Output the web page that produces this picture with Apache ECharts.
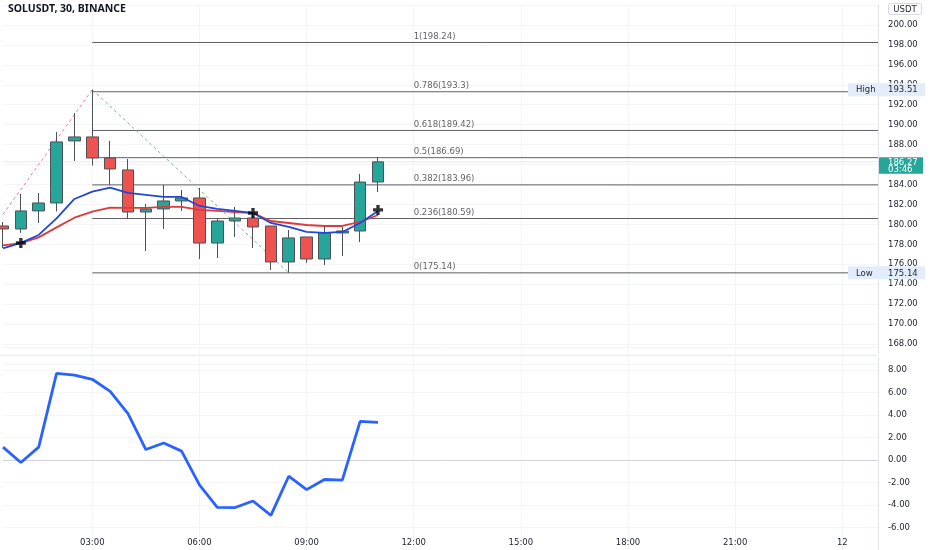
<!DOCTYPE html>
<html><head><meta charset="utf-8">
<script src="https://cdn.jsdelivr.net/npm/echarts@6/dist/echarts.min.js"></script>
<style>html,body{margin:0;padding:0;background:#fff}#c{width:932px;height:550px}</style>
</head><body><div id="c"></div>
<script>
const axisSlots = ['00:30','01:00','01:30','02:00','02:30','03:00','03:30','04:00','04:30','05:00','05:30','06:00','06:30','07:00','07:30','08:00','08:30','09:00','09:30','10:00','10:30','11:00','11:30','12:00','12:30','13:00','13:30','14:00','14:30','15:00','15:30','16:00','16:30','17:00','17:30','18:00','18:30','19:00','19:30','20:00','20:30','21:00','21:30','22:00','22:30','23:00','23:30','12','12 00:30','12 01:00'];
const tickLabels = ['03:00','06:00','09:00','12:00','15:00','18:00','21:00','12'];
const candleTimes = ['00:30','01:00','01:30','02:00','02:30','03:00','03:30','04:00','04:30','05:00','05:30','06:00','06:30','07:00','07:30','08:00','08:30','09:00','09:30','10:00','10:30','11:00'];
const opens  = [179.84,179.54,181.35,182.15,188.37,188.77,186.66,185.46,181.24,181.55,182.35,182.65,178.13,180.34,180.64,179.84,176.23,178.74,176.53,179.14,179.34,184.25];
const closes = [179.54,181.35,182.15,188.27,188.77,186.66,185.56,181.24,181.55,182.35,182.65,178.13,180.34,180.64,179.74,176.23,178.64,176.53,179.14,179.34,184.25,186.27];
const lows   = [177.63,179.14,180.14,181.30,186.36,185.90,183.95,180.54,177.33,179.54,181.35,176.53,176.63,178.74,177.63,175.43,175.14,176.13,175.93,176.83,178.23,183.25];
const highs  = [180.24,183.05,183.15,189.27,191.17,193.51,188.37,186.56,182.05,183.95,183.45,183.65,180.54,181.75,181.14,179.84,179.44,178.74,179.94,179.74,185.06,186.76];
const emaFast = [177.60,178.15,178.94,180.60,182.55,183.28,183.68,183.15,182.95,182.75,182.75,181.85,181.55,181.35,181.14,180.14,179.74,179.24,179.14,179.24,180.14,181.35];
const emaSlow = [177.90,178.13,178.70,179.70,180.67,181.27,181.67,181.65,181.65,181.75,181.75,181.45,181.35,181.24,181.14,180.34,180.14,179.94,179.84,179.84,180.24,180.94];
const oscillator = [1.13,-0.23,1.13,7.68,7.53,7.16,6.09,4.11,0.92,1.50,0.78,-2.21,-4.21,-4.23,-3.65,-4.93,-1.45,-2.64,-1.74,-1.80,3.42,3.33];
const crossTimes = ['01:00','07:30','11:00'];
const crossValues = [178.13,181.14,181.45];
const fibRatios = ['1','0.786','0.618','0.5','0.382','0.236','0'];
const fibLevels = [198.24,193.3,189.42,186.69,183.96,180.59,175.14];
const fibStart = '03:00', fibEnd = '12 01:00', fibLabelAt = '12:00';
const upLegTimes = ['00:30','03:00'], upLegValues = [181.0,193.51];
const downLegTimes = ['03:00','08:30'], downLegValues = [193.51,175.14];
const lastPrice = 186.27, countdown = '03:46';
const highValue = 193.51, lowValue = 175.14;
const titleText = 'SOLUSDT, 30, BINANCE';
const currency = 'USDT';

const FONT = 'DejaVu Sans';
const chart = echarts.init(document.getElementById('c'), null, {renderer:'canvas'});
const labelInterval = (i, v) => tickLabels.includes(v);

const series = [];
fibLevels.forEach((lv) => {
  series.push({type:'line', xAxisIndex:0, yAxisIndex:0, data:[[fibStart, lv],[fibEnd, lv]], symbol:'none', silent:true,
    lineStyle:{color:'#5f6066', width:1}, clip:false, z:2});
});
series.push({type:'scatter', xAxisIndex:0, yAxisIndex:0, symbolSize:0, silent:true,
  data: fibLevels.map((lv,i)=>({value:[fibLabelAt, lv], label:{formatter: fibRatios[i]+'('+lv+')'}})),
  label:{show:true, position:'right', distance:0, offset:[0,-6], color:'#3a3a3a', fontFamily:FONT, fontSize:8.5}, z:3});
series.push({type:'line', xAxisIndex:0, yAxisIndex:0, data:[[axisSlots[0], lastPrice],[fibEnd, lastPrice]], symbol:'none', silent:true,
  lineStyle:{color:'#e9eaee', width:1}, clip:false, z:1});
series.push({type:'line', xAxisIndex:0, yAxisIndex:0, data: upLegTimes.map((t,i)=>[t, upLegValues[i]]), symbol:'none', silent:true,
  lineStyle:{color:'#ee7a86', width:1, type:[3,3]}, clip:false, z:2});
series.push({type:'line', xAxisIndex:0, yAxisIndex:0, data: downLegTimes.map((t,i)=>[t, downLegValues[i]]), symbol:'none', silent:true,
  lineStyle:{color:'#7fb486', width:1, type:[3,3]}, clip:false, z:2});
series.push({type:'candlestick', xAxisIndex:0, yAxisIndex:0, barWidth:12, clip:false,
  data: candleTimes.map((t,i)=>[opens[i], closes[i], lows[i], highs[i]]),
  itemStyle:{color:'#26a69a', color0:'#ef5350', borderColor:'#4e5257', borderColor0:'#4e5257', borderWidth:1}, z:4});
series.push({type:'line', xAxisIndex:0, yAxisIndex:0, data: candleTimes.map((t,i)=>[t, emaSlow[i]]), symbol:'none', clip:false,
  lineStyle:{color:'#dd3b3b', width:1.8}, z:5});
series.push({type:'line', xAxisIndex:0, yAxisIndex:0, data: candleTimes.map((t,i)=>[t, emaFast[i]]), symbol:'none', clip:false,
  lineStyle:{color:'#2446d6', width:1.8}, z:6});
series.push({type:'scatter', xAxisIndex:0, yAxisIndex:0, data: crossTimes.map((t,i)=>[t, crossValues[i]]),
  symbol:'path://M3,0H6V3H9V6H6V9H3V6H0V3H3Z', symbolSize:10, itemStyle:{color:'#000'}, z:7});
series.push({type:'line', xAxisIndex:1, yAxisIndex:1, data: candleTimes.map((t,i)=>[t, oscillator[i]]), symbol:'none', clip:false,
  lineStyle:{color:'#2962ff', width:2.8},
  markLine:{silent:true, symbol:'none', label:{show:false}, lineStyle:{color:'#d3d5da', width:1, type:'solid'}, data:[{yAxis:0}]}, z:5});

const yLabel = {margin:10, color:'#1e222d', fontFamily:FONT, fontSize:8.5};
chart.setOption({
  animation:false,
  backgroundColor:'#ffffff',
  title:{text:titleText, left:8, top:4, padding:0, textStyle:{fontFamily:'Noto Sans', fontSize:10.5, fontWeight:'bold', color:'#131722'}},
  grid:[
    {left:3, right:54, top:5, height:359},
    {left:3, right:54, top:347.3, height:207}
  ],
  xAxis:[
    {type:'category', gridIndex:0, data:axisSlots, boundaryGap:false,
      axisLine:{show:false}, axisTick:{show:false}, axisLabel:{show:false},
      splitLine:{show:true, interval:labelInterval, lineStyle:{color:'#f4f5f8'}}},
    {type:'category', gridIndex:1, data:axisSlots, boundaryGap:false, position:'bottom', offset:-18.3,
      axisLine:{show:true, lineStyle:{color:'#eceef2'}}, axisTick:{show:false},
      axisLabel:{interval:labelInterval, margin:7, color:'#1e222d', fontFamily:FONT, fontSize:8.5},
      splitLine:{show:true, interval:labelInterval, lineStyle:{color:'#f4f5f8'}}}
  ],
  yAxis:[
    {type:'value', gridIndex:0, position:'right', min:166, max:202, interval:2,
      axisLine:{show:true, lineStyle:{color:'#e0e3eb'}}, axisTick:{show:false},
      axisLabel:Object.assign({}, yLabel, {showMinLabel:false, formatter:v=>v.toFixed(2)}),
      splitLine:{show:true, lineStyle:{color:'#f4f5f8'}}},
    {type:'value', gridIndex:1, position:'right', min:-8, max:10, interval:2,
      axisLine:{show:true, lineStyle:{color:'#e0e3eb'}}, axisTick:{show:false},
      axisLabel:Object.assign({}, yLabel, {formatter:v=>(v===10||v===-8)?'':v.toFixed(2)}),
      splitLine:{show:true, lineStyle:{color:'#f4f5f8'}}}
  ],
  series:series
});

const ax = chart.convertToPixel({xAxisIndex:0}, fibEnd);
const yHigh = chart.convertToPixel({yAxisIndex:0}, highValue);
const yLow = chart.convertToPixel({yAxisIndex:0}, lowValue);
const yLast = chart.convertToPixel({yAxisIndex:0}, lastPrice);
const ySep = chart.convertToPixel({yAxisIndex:1}, 10) + 8;
function tagBox(label, value, y){
  return [
    {type:'rect', shape:{x:ax-30, y:y-6.5, width:77, height:13}, style:{fill:'#e3edf9'}, z:100},
    {type:'text', x:ax-22, y:y+0.5, style:{text:label, fill:'#1e222d', font:'8.5px "DejaVu Sans"', textVerticalAlign:'middle'}, z:101},
    {type:'text', x:ax+10, y:y+0.5, style:{text:value.toFixed(2), fill:'#1e222d', font:'8.5px "DejaVu Sans"', textVerticalAlign:'middle'}, z:101}
  ];
}
chart.setOption({graphic:[
  {type:'line', shape:{x1:0, y1:ySep, x2:932, y2:ySep}, style:{stroke:'#e6e8ec', lineWidth:1}, z:90},
  {type:'rect', shape:{x:ax, y:ySep-1, width:54, height:3}, style:{fill:'#fff'}, z:91},
  ...tagBox('High', highValue, yHigh),
  ...tagBox('Low', lowValue, yLow),
  {type:'rect', shape:{x:ax+1, y:yLast-4.5, width:44, height:16.5}, style:{fill:'#26a69a'}, z:100},
  {type:'text', x:ax+10, y:yLast+0.5, style:{text:lastPrice.toFixed(2), fill:'#fff', font:'8.5px "DejaVu Sans"', textVerticalAlign:'middle'}, z:101},
  {type:'text', x:ax+10, y:yLast+8, style:{text:countdown, fill:'#fff', font:'8.5px "DejaVu Sans"', textVerticalAlign:'middle'}, z:101},
  {type:'rect', shape:{x:ax+10, y:0, width:36, height:14}, style:{fill:'#fff'}, z:100},
  {type:'rect', shape:{x:ax+10.5, y:3.5, width:33, height:11, r:2}, style:{fill:'#fff', stroke:'#d6d9df', lineWidth:1}, z:101},
  {type:'text', x:ax+27, y:9.5, style:{text:currency, fill:'#1e222d', font:'8.5px "DejaVu Sans"', textAlign:'center', textVerticalAlign:'middle'}, z:102}
]});
</script>
</body></html>
